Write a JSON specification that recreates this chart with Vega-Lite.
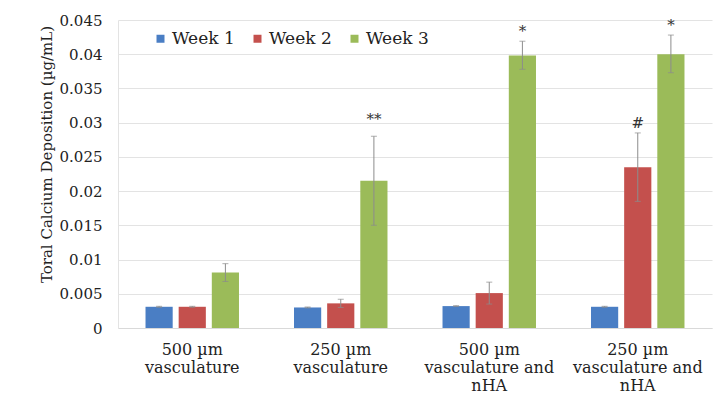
{
  "$schema": "https://vega.github.io/schema/vega-lite/v6.json",
  "width": 594,
  "height": 308,
  "autosize": {"type": "none"},
  "padding": {"left": 118, "top": 20, "right": 13, "bottom": 65},
  "background": "white",
  "config": {
    "font": "DejaVu Serif",
    "view": {"stroke": null},
    "axis": {"labelFont": "DejaVu Serif", "titleFont": "DejaVu Serif", "labelColor": "#222222", "titleColor": "#222222"},
    "legend": {"labelFont": "DejaVu Serif", "labelColor": "#222222"},
    "text": {"font": "DejaVu Serif"}
  },
  "datasets": {
    "bars": [
      {"group": "500 µm|vasculature", "week": "Week 1", "value": 0.0031, "lo": 0.00303, "hi": 0.00317},
      {"group": "500 µm|vasculature", "week": "Week 2", "value": 0.0031, "lo": 0.00303, "hi": 0.00317},
      {"group": "500 µm|vasculature", "week": "Week 3", "value": 0.0081, "lo": 0.0068, "hi": 0.0094},
      {"group": "250 µm|vasculature", "week": "Week 1", "value": 0.0030, "lo": 0.00293, "hi": 0.00307},
      {"group": "250 µm|vasculature", "week": "Week 2", "value": 0.0036, "lo": 0.0030, "hi": 0.0042},
      {"group": "250 µm|vasculature", "week": "Week 3", "value": 0.0215, "lo": 0.0150, "hi": 0.0280},
      {"group": "500 µm|vasculature and|nHA", "week": "Week 1", "value": 0.0032, "lo": 0.00313, "hi": 0.00327},
      {"group": "500 µm|vasculature and|nHA", "week": "Week 2", "value": 0.0051, "lo": 0.0035, "hi": 0.0067},
      {"group": "500 µm|vasculature and|nHA", "week": "Week 3", "value": 0.0398, "lo": 0.0378, "hi": 0.0419},
      {"group": "250 µm|vasculature and|nHA", "week": "Week 1", "value": 0.0031, "lo": 0.00303, "hi": 0.00317},
      {"group": "250 µm|vasculature and|nHA", "week": "Week 2", "value": 0.0235, "lo": 0.0185, "hi": 0.0285},
      {"group": "250 µm|vasculature and|nHA", "week": "Week 3", "value": 0.0400, "lo": 0.0373, "hi": 0.0428}
    ],
    "notes": [
      {"group": "250 µm|vasculature", "week": "Week 3", "pos": 0.0305, "label": "**"},
      {"group": "500 µm|vasculature and|nHA", "week": "Week 3", "pos": 0.0434, "label": "*"},
      {"group": "250 µm|vasculature and|nHA", "week": "Week 2", "pos": 0.0300, "label": "#"},
      {"group": "250 µm|vasculature and|nHA", "week": "Week 3", "pos": 0.0442, "label": "*"}
    ]
  },
  "encoding": {
    "x": {
      "field": "group", "type": "nominal", "sort": null,
      "scale": {"domain": ["500 µm|vasculature", "250 µm|vasculature", "500 µm|vasculature and|nHA", "250 µm|vasculature and|nHA"], "paddingInner": 0, "paddingOuter": 0},
      "axis": {"title": null, "labelAngle": 0, "labelExpr": "split(datum.label, '|')", "labelFontSize": 16, "labelLineHeight": 18, "labelPadding": 13, "ticks": false, "domainColor": "#d9d9d9", "labelLimit": 0, "labelBaseline": "top"}
    },
    "xOffset": {
      "field": "week", "type": "nominal",
      "scale": {"domain": ["Week 1", "Week 2", "Week 3"], "paddingInner": 0.18, "paddingOuter": 0.83}
    }
  },
  "layer": [
    {
      "data": {"name": "bars"},
      "mark": {"type": "bar"},
      "encoding": {
        "y": {
          "field": "value", "type": "quantitative",
          "scale": {"domain": [0, 0.045], "nice": false},
          "axis": {"values": [0, 0.005, 0.01, 0.015, 0.02, 0.025, 0.03, 0.035, 0.04, 0.045], "labelOverlap": false, "format": "~g", "title": "Toral Calcium Deposition (µg/mL)", "titleFontSize": 15, "titleFontWeight": "normal", "titleX": -72, "titleY": 134, "titleBaseline": "middle", "labelFontSize": 15, "labelPadding": 16, "ticks": false, "domainColor": "#e3e3e3", "gridColor": "#e3e3e3"}
        },
        "color": {
          "field": "week", "type": "nominal",
          "scale": {"domain": ["Week 1", "Week 2", "Week 3"], "range": ["#4a7ec4", "#c4504d", "#9bbb59"]},
          "legend": {"title": null, "orient": "none", "legendX": 34, "legendY": 10, "direction": "horizontal", "symbolType": "square", "symbolSize": 64, "labelFontSize": 17, "labelFont": "DejaVu Serif", "labelColor": "#222222", "labelOffset": 3, "columnPadding": 14, "symbolStrokeWidth": 0}
        }
      }
    },
    {
      "data": {"name": "bars"},
      "mark": {"type": "rule", "color": "#8c8c8c", "strokeWidth": 1},
      "encoding": {
        "y": {"field": "lo", "type": "quantitative", "axis": {"values": [0, 0.005, 0.01, 0.015, 0.02, 0.025, 0.03, 0.035, 0.04, 0.045], "labelOverlap": false, "format": "~g", "title": "Toral Calcium Deposition (µg/mL)"}},
        "y2": {"field": "hi"}
      }
    },
    {
      "data": {"name": "bars"},
      "mark": {"type": "tick", "color": "#8c8c8c", "thickness": 1, "size": 6, "orient": "horizontal"},
      "encoding": {"y": {"field": "hi", "type": "quantitative", "axis": {"values": [0, 0.005, 0.01, 0.015, 0.02, 0.025, 0.03, 0.035, 0.04, 0.045], "labelOverlap": false, "format": "~g", "title": "Toral Calcium Deposition (µg/mL)"}}}
    },
    {
      "data": {"name": "bars"},
      "mark": {"type": "tick", "color": "#8c8c8c", "thickness": 1, "size": 6, "orient": "horizontal"},
      "encoding": {"y": {"field": "lo", "type": "quantitative", "axis": {"values": [0, 0.005, 0.01, 0.015, 0.02, 0.025, 0.03, 0.035, 0.04, 0.045], "labelOverlap": false, "format": "~g", "title": "Toral Calcium Deposition (µg/mL)"}}}
    },
    {
      "data": {"name": "notes"},
      "mark": {"type": "text", "fontSize": 15, "color": "#333333", "font": "DejaVu Serif", "baseline": "middle"},
      "encoding": {
        "y": {"field": "pos", "type": "quantitative", "axis": {"values": [0, 0.005, 0.01, 0.015, 0.02, 0.025, 0.03, 0.035, 0.04, 0.045], "labelOverlap": false, "format": "~g", "title": "Toral Calcium Deposition (µg/mL)"}},
        "text": {"field": "label"}
      }
    }
  ]
}
